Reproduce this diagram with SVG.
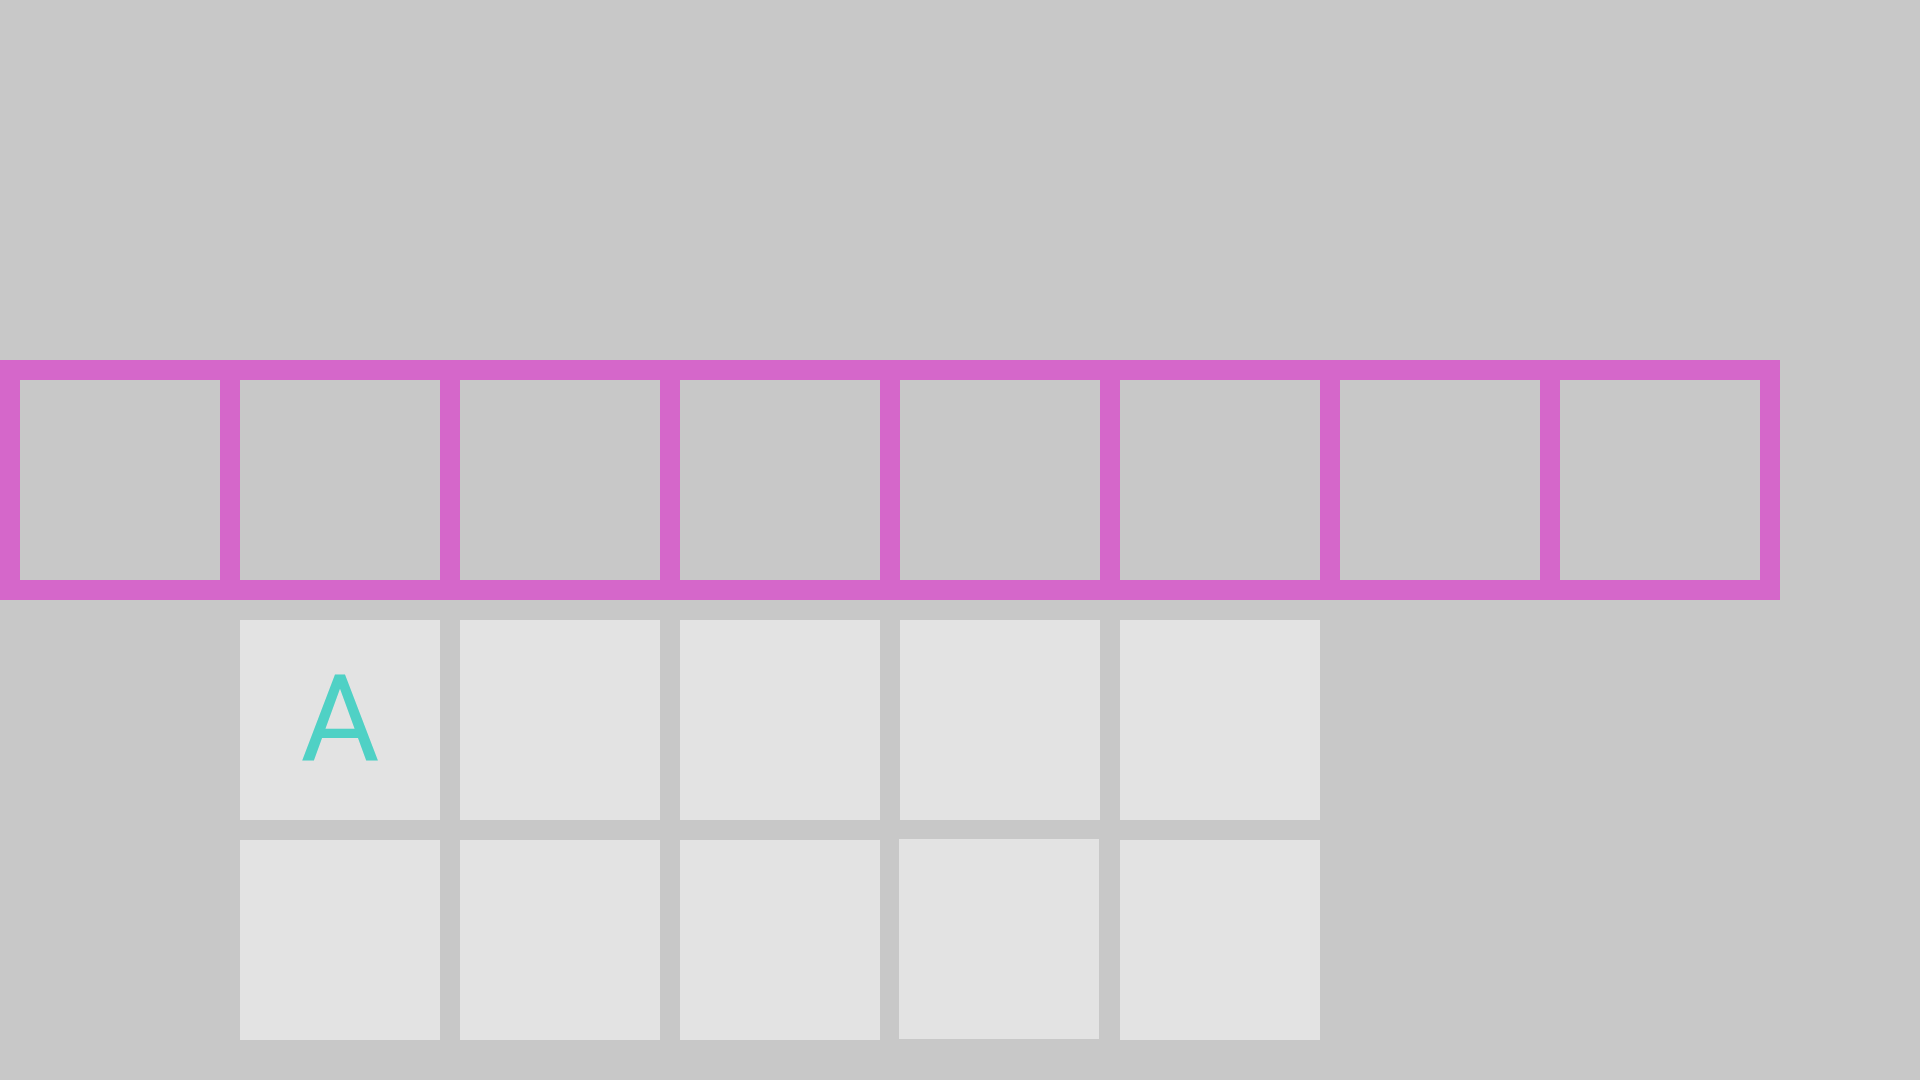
<svg xmlns="http://www.w3.org/2000/svg" width="1920" height="1080" viewBox="0 0 1920 1080">
<style>
.slot{fill:#c8c8c8}
.cell{fill:#e3e3e3}
.lbl{font-family:Roboto,"Liberation Sans",sans-serif;font-size:121px;fill:#4fd1c5;text-anchor:middle}
</style>
<rect x="0" y="0" width="1920" height="1080" fill="#c8c8c8"/>
<g id="frame">
<rect x="0" y="360" width="1780" height="240" fill="#d567ca"/>
<rect class="slot" x="20" y="380" width="200" height="200"/>
<rect class="slot" x="240" y="380" width="200" height="200"/>
<rect class="slot" x="460" y="380" width="200" height="200"/>
<rect class="slot" x="680" y="380" width="200" height="200"/>
<rect class="slot" x="900" y="380" width="200" height="200"/>
<rect class="slot" x="1120" y="380" width="200" height="200"/>
<rect class="slot" x="1340" y="380" width="200" height="200"/>
<rect class="slot" x="1560" y="380" width="200" height="200"/>
</g>
<g id="cell-r1c1"><rect class="cell" x="240" y="620" width="200" height="200"/><text class="lbl" x="340" y="760">A</text></g>
<g id="cell-r1c2"><rect class="cell" x="460" y="620" width="200" height="200"/></g>
<g id="cell-r1c3"><rect class="cell" x="680" y="620" width="200" height="200"/></g>
<g id="cell-r1c4"><rect class="cell" x="900" y="620" width="200" height="200"/></g>
<g id="cell-r1c5"><rect class="cell" x="1120" y="620" width="200" height="200"/></g>
<g id="cell-r2c1"><rect class="cell" x="240" y="840" width="200" height="200"/></g>
<g id="cell-r2c2"><rect class="cell" x="460" y="840" width="200" height="200"/></g>
<g id="cell-r2c3"><rect class="cell" x="680" y="840" width="200" height="200"/></g>
<g id="cell-r2c4"><rect class="cell" x="899" y="839" width="200" height="200"/></g>
<g id="cell-r2c5"><rect class="cell" x="1120" y="840" width="200" height="200"/></g>
<g id="connectors"></g>
</svg>
